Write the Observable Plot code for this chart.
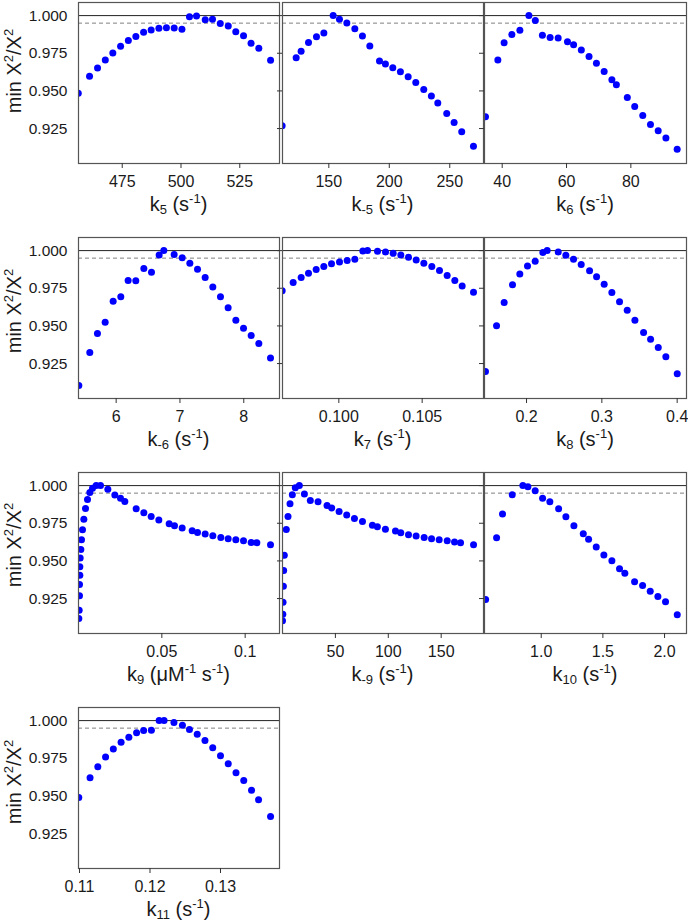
<!DOCTYPE html>
<html>
<head>
<meta charset="utf-8">
<script src="https://cdn.jsdelivr.net/npm/d3@7"></script>
<script src="https://cdn.jsdelivr.net/npm/@observablehq/plot@0.6"></script>
<style>
  body { margin: 0; background: #fff; }
  #wrap { position: relative; width: 688px; height: 923px; font-family: "Liberation Sans", Arial, sans-serif; color: #1a1a1a; overflow: hidden; }
  .xt { position: absolute; font-size: 20px; line-height: 20px; text-align: center; white-space: nowrap; }
  .yt { position: absolute; font-size: 20px; line-height: 20px; white-space: nowrap; transform: translate(-50%, -50%) rotate(-90deg); }
  sub, sup { font-size: 13px; line-height: 0; }
  sub { vertical-align: -3px; }
  sup { vertical-align: 8px; }
</style>
</head>
<body>
<div id="wrap"></div>
<script>
// ---- data ----
const yDomain = [0.9018, 1.0087];
const yTicks = [0.925, 0.95, 0.975, 1.0];
const solidLevel = [1.0];
const dashedLevel = [0.995];

const k5X = [456.3,461.1,464.5,467.8,471.0,474.3,477.6,480.8,484.1,487.3,490.6,493.8,497.1,500.4,503.6,506.6,510.3,513.4,516.7,520.1,523.3,526.6,529.8,533.1,538.1];
const k5Y = [0.9485,0.9598,0.9652,0.9705,0.9751,0.9796,0.9834,0.9862,0.9889,0.9905,0.9916,0.9920,0.9918,0.9909,0.9993,0.9998,0.9973,0.9976,0.9947,0.9931,0.9893,0.9867,0.9816,0.9783,0.9703];
const k5Domain = [456.4, 541.9];
const k5Ticks = [475, 500, 525];

const km5X = [111.4,123.0,127.1,133.2,139.8,145.9,153.6,158.8,164.9,171.5,177.8,183.9,191.9,196.8,202.9,209.2,215.6,221.9,228.5,234.8,240.1,247.5,253.6,259.9,269.6];
const km5Y = [0.9268,0.9720,0.9763,0.9822,0.9860,0.9885,1.0000,0.9976,0.9951,0.9913,0.9865,0.9798,0.9698,0.9678,0.9654,0.9627,0.9594,0.9556,0.9510,0.9467,0.9419,0.9350,0.9290,0.9228,0.9132];
const km5Domain = [111.7, 277.9];
const km5Ticks = [150, 200, 250];

const k6X = [34.8,38.65,40.6,43.0,45.5,48.3,50.3,52.5,54.9,57.4,60.3,62.2,64.6,67.0,69.3,71.7,74.1,75.5,78.9,81.2,83.7,86.1,88.5,90.9,94.4];
const k6Y = [0.9328,0.9705,0.9820,0.9874,0.9902,1.0000,0.9967,0.9869,0.9854,0.9851,0.9827,0.9807,0.9771,0.9729,0.9683,0.9629,0.9574,0.9541,0.9456,0.9396,0.9337,0.9277,0.9235,0.9188,0.9113];
const k6Domain = [34.5, 97.3];
const k6Ticks = [40, 60, 80];

const km6X = [5.415,5.587,5.707,5.828,5.953,6.073,6.188,6.308,6.434,6.554,6.674,6.747,6.909,7.035,7.155,7.275,7.395,7.515,7.635,7.755,7.876,7.996,8.116,8.236,8.419];
const km6Y = [0.9105,0.9323,0.9450,0.9525,0.9664,0.9694,0.9802,0.9800,0.9881,0.9857,0.9971,1.0000,0.9974,0.9952,0.9916,0.9877,0.9822,0.9758,0.9694,0.9620,0.9538,0.9485,0.9437,0.9384,0.9287];
const km6Domain = [5.41, 8.56];
const km6Ticks = [6, 7, 8];

const k7X = [0.0966,0.09726,0.09774,0.09818,0.09864,0.0991,0.09956,0.10004,0.1005,0.10096,0.10144,0.10172,0.10232,0.1028,0.10326,0.10372,0.10418,0.10464,0.1051,0.10558,0.10604,0.1065,0.10696,0.1074,0.10808];
const k7Y = [0.9734,0.9789,0.9822,0.9850,0.9875,0.9894,0.9912,0.9925,0.9934,0.9943,0.9998,1.0000,0.9996,0.9991,0.9982,0.9971,0.9956,0.9938,0.9916,0.9894,0.9868,0.9835,0.9802,0.9765,0.9723];
const k7Domain = [0.09662, 0.10868];
const k7Ticks = [0.100, 0.105];

const k8X = [0.1455,0.1602,0.1703,0.1814,0.1911,0.2013,0.2115,0.2217,0.2274,0.2421,0.2522,0.2624,0.2726,0.2837,0.2930,0.3031,0.3133,0.3235,0.3337,0.3439,0.3554,0.3647,0.3749,0.3850,0.4001];
const k8Y = [0.9197,0.9501,0.9655,0.9773,0.9844,0.9897,0.9930,0.9987,1.0000,0.9991,0.9969,0.9943,0.9908,0.9866,0.9826,0.9776,0.9721,0.9661,0.9604,0.9538,0.9457,0.9411,0.9356,0.9296,0.9182];
const k8Domain = [0.1442, 0.4124];
const k8Ticks = [0.2, 0.3, 0.4];

const k9X = [0.0002,0.0004,0.0006,0.0006,0.0008,0.0008,0.0010,0.0014,0.0018,0.0024,0.0032,0.0042,0.0054,0.0068,0.0084,0.0106,0.0132,0.0176,0.0218,0.0252,0.0278,0.0346,0.0392,0.0436,0.0482,0.0544,0.0576,0.0622,0.0682,0.0714,0.0760,0.0806,0.0854,0.0898,0.0944,0.0990,0.1036,0.1070,0.1152];
const k9Y = [0.9118,0.9173,0.9268,0.9343,0.9404,0.9462,0.9519,0.9576,0.9640,0.9707,0.9777,0.9848,0.9907,0.9954,0.9982,1.0000,1.0000,0.9976,0.9938,0.9916,0.9894,0.9846,0.9819,0.9795,0.9771,0.9746,0.9733,0.9718,0.9700,0.9689,0.9678,0.9667,0.9656,0.9647,0.9640,0.9634,0.9623,0.9621,0.9607];
const k9Domain = [0, 0.1206];
const k9Ticks = [0.05, 0.1];

const km9X = [0.0,0.3,0.5,0.8,1.1,1.7,3.6,5.2,7.1,9.3,12.1,15.9,20.7,26.3,33.6,42.1,46.5,53.5,60.7,68.0,75.6,85.0,89.7,97.3,106.8,111.8,119.1,126.3,133.9,140.9,148.1,155.7,162.6,168.3,180.6];
const km9Y = [0.9102,0.9146,0.9226,0.9332,0.9437,0.9537,0.9709,0.9795,0.9879,0.9940,0.9985,1.0000,0.9945,0.9901,0.9892,0.9868,0.9852,0.9828,0.9804,0.9782,0.9762,0.9737,0.9726,0.9711,0.9698,0.9687,0.9674,0.9665,0.9656,0.9647,0.9640,0.9634,0.9625,0.9621,0.9607];
const km9Domain = [0, 190];
const km9Ticks = [50, 100, 150];

const k10X = [0.549,0.638,0.686,0.765,0.851,0.892,0.951,1.011,1.070,1.141,1.200,1.265,1.341,1.384,1.446,1.508,1.573,1.635,1.678,1.757,1.822,1.884,1.946,2.008,2.103];
const k10Y = [0.9243,0.9654,0.9812,0.9940,1.0000,0.9993,0.9965,0.9916,0.9892,0.9846,0.9793,0.9733,0.9680,0.9643,0.9592,0.9539,0.9501,0.9448,0.9418,0.9362,0.9336,0.9298,0.9263,0.9228,0.9142];
const k10Domain = [0.54, 2.178];
const k10Ticks = [1.0, 1.5, 2.0];

const k11X = [0.1099,0.1115,0.1126,0.1137,0.1148,0.1159,0.1170,0.1181,0.1191,0.1202,0.1213,0.1220,0.1234,0.1246,0.1256,0.1267,0.1278,0.1289,0.1300,0.1311,0.1322,0.1333,0.1344,0.1354,0.1371];
const k11Y = [0.9490,0.9620,0.9694,0.9758,0.9811,0.9857,0.9890,0.9919,0.9934,0.9936,1.0000,1.0000,0.9987,0.9969,0.9941,0.9910,0.9868,0.9820,0.9767,0.9714,0.9653,0.9602,0.9538,0.9474,0.9364];
const k11Domain = [0.10986, 0.13837];
const k11Ticks = [0.11, 0.12, 0.13];

const xTitles = [
  'k<sub>5</sub> (s<sup>-1</sup>)',
  'k<sub>-5</sub> (s<sup>-1</sup>)',
  'k<sub>6</sub> (s<sup>-1</sup>)',
  'k<sub>-6</sub> (s<sup>-1</sup>)',
  'k<sub>7</sub> (s<sup>-1</sup>)',
  'k<sub>8</sub> (s<sup>-1</sup>)',
  'k<sub>9</sub> (μM<sup>-1</sup> s<sup>-1</sup>)',
  'k<sub>-9</sub> (s<sup>-1</sup>)',
  'k<sub>10</sub> (s<sup>-1</sup>)',
  'k<sub>11</sub> (s<sup>-1</sup>)'
];
const yTitle = 'min Χ<sup>2</sup>/Χ<sup>2</sup>';

// ---- layout ----
const colLeft = [78, 282, 484];
const colW = [201, 201, 202];
const rowTop = [2, 237, 472, 707];
const plotH = 161;
const yTitleCenter = [71, 311, 545, 782];

const panels = [
  {x: k5X, y: k5Y, domain: k5Domain, ticks: k5Ticks, fmt: d3.format("d")},
  {x: km5X, y: km5Y, domain: km5Domain, ticks: km5Ticks, fmt: d3.format("d")},
  {x: k6X, y: k6Y, domain: k6Domain, ticks: k6Ticks, fmt: d3.format("d")},
  {x: km6X, y: km6Y, domain: km6Domain, ticks: km6Ticks, fmt: d3.format("d")},
  {x: k7X, y: k7Y, domain: k7Domain, ticks: k7Ticks, fmt: d3.format(".3f")},
  {x: k8X, y: k8Y, domain: k8Domain, ticks: k8Ticks, fmt: d3.format(".1f")},
  {x: k9X, y: k9Y, domain: k9Domain, ticks: k9Ticks, fmt: d => String(d)},
  {x: km9X, y: km9Y, domain: km9Domain, ticks: km9Ticks, fmt: d3.format("d")},
  {x: k10X, y: k10Y, domain: k10Domain, ticks: k10Ticks, fmt: d3.format(".1f")},
  {x: k11X, y: k11Y, domain: k11Domain, ticks: k11Ticks, fmt: d3.format(".2f")}
];

const wrap = document.getElementById("wrap");

panels.forEach((p, i) => {
  const row = Math.floor(i / 3), col = i % 3;
  const ml = col === 0 ? 78 : 8, mr = 2, mt = 2, mb = 32;
  const data = p.x.map((v, j) => ({x: v, y: p.y[j]}));
  const chart = Plot.plot({
    width: colW[col] + ml + mr,
    height: plotH + mt + mb,
    marginLeft: ml, marginRight: mr, marginTop: mt, marginBottom: mb,
    style: {background: "transparent", overflow: "visible", fontFamily: "'Liberation Sans', Arial, sans-serif", fontSize: "16px", color: "#1a1a1a"},
    x: {domain: p.domain},
    y: {domain: yDomain},
    marks: [
      Plot.ruleY(dashedLevel, {stroke: "#808080", strokeWidth: 1, strokeDasharray: "4,3"}),
      Plot.ruleY(solidLevel, {stroke: "#222", strokeWidth: 1}),
      Plot.dot(data, {x: "x", y: "y", r: 3.5, fill: "#0000ff", clip: true}),
      Plot.frame({stroke: "#555", strokeWidth: 1.2}),
      Plot.axisX({ticks: p.ticks, tickFormat: p.fmt, tickSize: 5, tickPadding: 7, fontSize: 16, label: null, stroke: "#333"}),
      Plot.axisY({ticks: yTicks, tickFormat: col === 0 ? d3.format(".3f") : () => "", tickSize: col === 0 ? 0 : 5, tickPadding: 11, fontSize: 15.5, label: null, stroke: "#333"})
    ]
  });
  chart.style.position = "absolute";
  chart.style.left = (colLeft[col] - ml) + "px";
  chart.style.top = (rowTop[row] - mt) + "px";
  wrap.appendChild(chart);

  const xt = document.createElement("div");
  xt.className = "xt";
  xt.innerHTML = xTitles[i];
  xt.style.left = colLeft[col] + "px";
  xt.style.width = colW[col] + "px";
  xt.style.top = (rowTop[row] + plotH + 48 - 17) + "px";
  wrap.appendChild(xt);

  if (col === 0) {
    const yt = document.createElement("div");
    yt.className = "yt";
    yt.innerHTML = yTitle;
    yt.style.left = "14px";
    yt.style.top = yTitleCenter[row] + "px";
    wrap.appendChild(yt);
  }
});
</script>
</body>
</html>
